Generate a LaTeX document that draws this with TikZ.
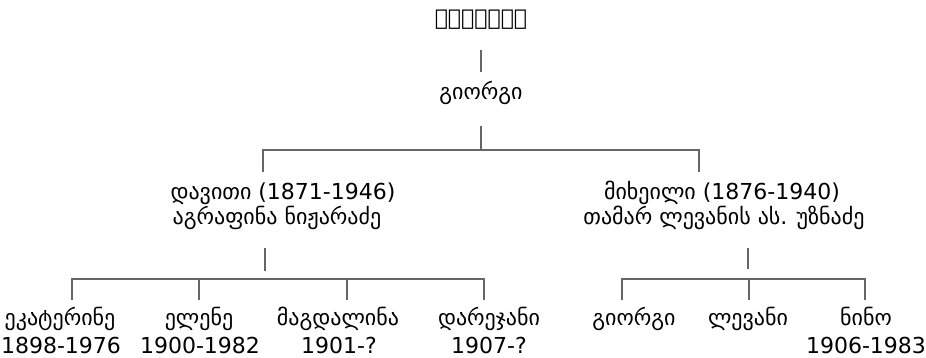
\documentclass[tikz,border=0pt]{standalone}
\usepackage{fontspec}
\setmainfont{DejaVu Sans}
\usetikzlibrary{calc}
\begin{document}
\begin{tikzpicture}[x=0.5pt,y=-0.5pt]
\tikzstyle{every node}=[inner sep=0pt,anchor=base,font=\fontsize{11}{13}\selectfont];
\tikzstyle{link}=[draw=black!60,line width=0.6pt];
\useasboundingbox (0,0) rectangle (926,358);

% parents
\node (dimitri) at (481,26) {ᲓᲘᲛᲘᲢᲠᲘ};
\node (giorgi) at (481,100) {გიორგი};
\node (daviti) at (283,199) {დავითი (1871-1946)};
\node (agrafina) at (277,224) {აგრაფინა ნიჟარაძე};
\node (mikheil) at (722,199) {მიხეილი (1876-1940)};
\node (tamar) at (724,224) {თამარ ლევანის ას. უზნაძე};

% children of daviti
\node (ekaterine) at (60,325) {ეკატერინე};
\node (ekaterineY) at (61,353) {1898-1976};
\node (elene) at (199,325) {ელენე};
\node (eleneY) at (200,353) {1900-1982};
\node (magdalina) at (338,325) {მაგდალინა};
\node (magdalinaY) at (339,353) {1901-?};
\node (darejan) at (489,325) {დარეჯანი};
\node (darejanY) at (489,353) {1907-?};

% children of mikheil
\node (giorgiK) at (634,325) {გიორგი};
\node (levan) at (748,325) {ლევანი};
\node (nino) at (866,325) {ნინო};
\node (ninoY) at (866,353) {1906-1983};

% connectors
\coordinate (b1) at (481,150);
\coordinate (b1l) at (263,150);
\coordinate (b1r) at (699,150);
\coordinate (s2l) at (265,279);
\coordinate (b2l) at (72,279);
\coordinate (b2e) at (199,279);
\coordinate (b2m) at (347,279);
\coordinate (b2r) at (484,279);
\coordinate (s2r) at (748,279);
\coordinate (b3l) at (622,279);
\coordinate (b3m) at (749,279);
\coordinate (b3r) at (865,279);

\draw[link] ($(dimitri.base)+(0,24)$) -- ($(giorgi.base)+(0,-28)$);
\draw[link] ($(giorgi.base)+(0,26)$) -- (b1);
\draw[link] ($(b1l |- daviti.base)+(0,-27)$) -- (b1l) -- (b1r) -- ($(b1r |- mikheil.base)+(0,-27)$);

\draw[link] ($(s2l |- agrafina.base)+(0,24)$) -- ($(s2l)+(0,-8)$);
\draw[link] ($(b2l |- ekaterine.base)+(0,-25)$) -- (b2l) -- (b2r) -- ($(b2r |- darejan.base)+(0,-25)$);
\draw[link] (b2e) -- ($(b2e |- elene.base)+(0,-25)$);
\draw[link] (b2m) -- ($(b2m |- magdalina.base)+(0,-25)$);

\draw[link] ($(s2r |- tamar.base)+(0,24)$) -- ($(s2r)+(0,-10)$);
\draw[link] ($(b3l |- giorgiK.base)+(0,-25)$) -- (b3l) -- (b3r) -- ($(b3r |- nino.base)+(0,-25)$);
\draw[link] (b3m) -- ($(b3m |- levan.base)+(0,-25)$);
\end{tikzpicture}
\end{document}
